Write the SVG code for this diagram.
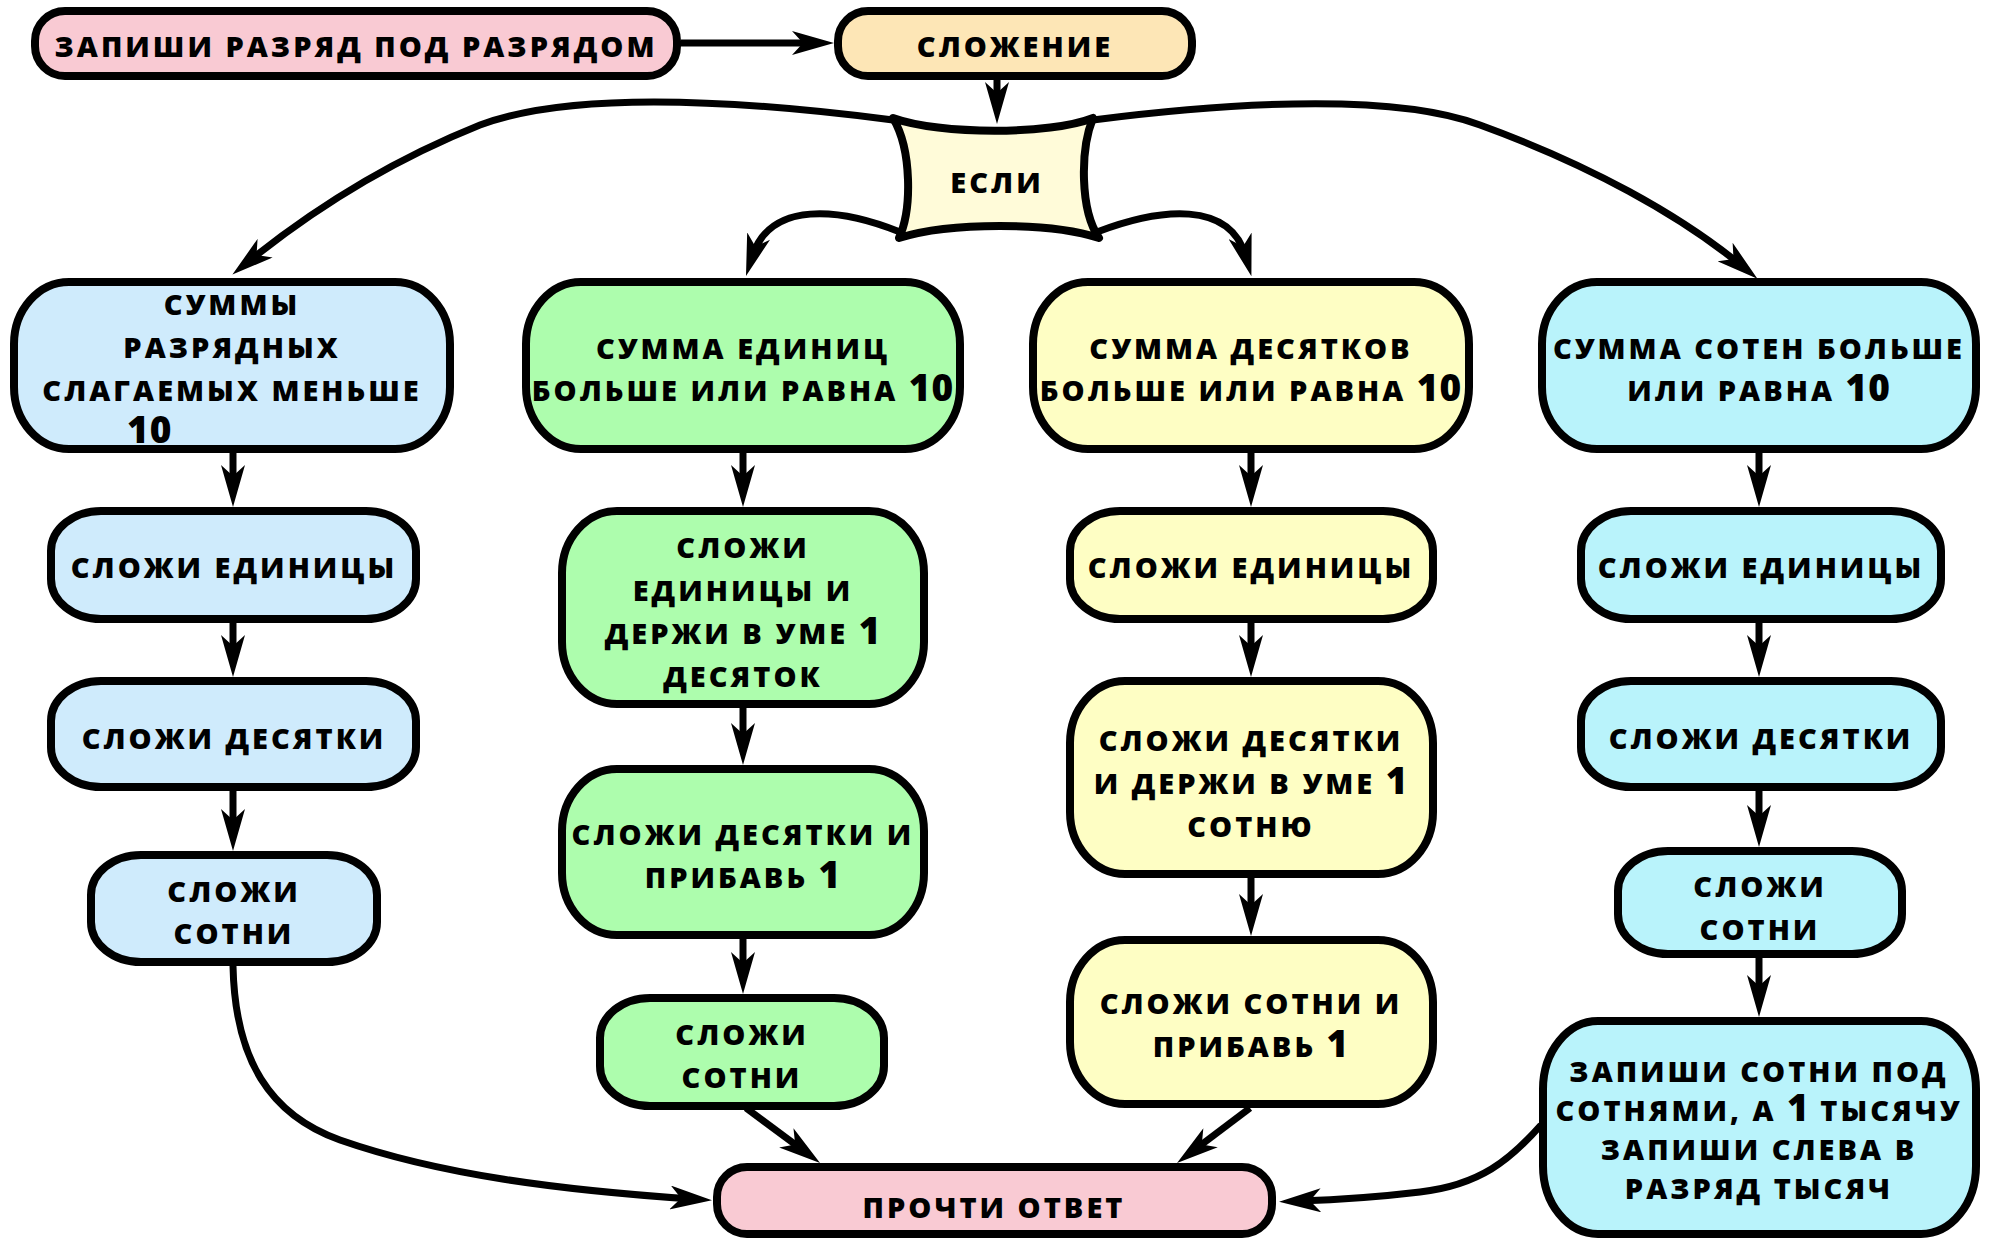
<svg xmlns="http://www.w3.org/2000/svg" width="1995" height="1240" viewBox="0 0 1995 1240">
<defs>
<style>
.n{stroke:#000;stroke-width:8}
.pink{fill:#f9cad3}.orange{fill:#fde6b6}.if{fill:#fffbd9}
.blue{fill:#cfebfc}.green{fill:#adfdad}.yellow{fill:#fefec4}.cyan{fill:#b9f3fb}
.t{font-family:"Open Sans","Noto Sans","DejaVu Sans",sans-serif;font-weight:800;font-size:29px;letter-spacing:3px;text-anchor:middle;fill:#000}
.d{font-size:37px;letter-spacing:1px}
.c{fill:none;stroke:#000;stroke-width:7;marker-end:url(#ah)}
</style>
<marker id="ah" markerUnits="userSpaceOnUse" viewBox="0 0 42 24" refX="22" refY="12" markerWidth="42" markerHeight="24" orient="auto">
<path d="M42,12 L0,0 L11,12 L0,24 Z" fill="#000"/>
</marker>
</defs>
<rect width="1995" height="1240" fill="#fff"/>
<g id="connectors">
<path class="c" d="M681,43 H814"/>
<path class="c" d="M997,80 V104"/>
<path class="c" d="M893,120 C700,95 560,95 480,125 C380,165 300,220 248,262"/>
<path class="c" d="M1093,120 C1250,100 1400,95 1480,125 C1590,165 1680,215 1742,266"/>
<path class="c" d="M900,232 C840,208 770,200 752,257"/>
<path class="c" d="M1097,232 C1160,208 1230,200 1246,257"/>
<path class="c" d="M233,453 V487"/>
<path class="c" d="M233,623 V657"/>
<path class="c" d="M233,791 V831"/>
<path class="c" d="M743,453 V487"/>
<path class="c" d="M743,708 V745"/>
<path class="c" d="M743,939 V974"/>
<path class="c" d="M1251,453 V487"/>
<path class="c" d="M1251,623 V657"/>
<path class="c" d="M1251,878 V916"/>
<path class="c" d="M1759,453 V487"/>
<path class="c" d="M1759,623 V657"/>
<path class="c" d="M1759,791 V827"/>
<path class="c" d="M1759,958 V997"/>
<path class="c" d="M233,966 C235,1060 270,1115 340,1140 C440,1175 560,1190 692,1199"/>
<path class="c" d="M746,1108 L804,1151"/>
<path class="c" d="M1250,1108 L1193,1151"/>
<path class="c" d="M1541,1125 C1510,1160 1480,1185 1420,1192 C1370,1198 1330,1200 1299,1201"/>
</g>
<g id="n_write"><rect class="n pink" x="35" y="11" width="642" height="65" rx="30" ry="30"/><text class="t" x="356" y="57">ЗАПИШИ РАЗРЯД ПОД РАЗРЯДОМ</text></g>
<g id="n_add"><rect class="n orange" x="838" y="11" width="354" height="65" rx="30" ry="30"/><text class="t" x="1015" y="57">СЛОЖЕНИЕ</text></g>
<g id="n_if"><path class="n if" stroke-width="7" stroke-linejoin="round" d="M893,118 C940,135 1050,135 1093,118 C1080,150 1080,210 1099,238 C1050,222 950,222 899,238 C912,210 912,150 893,118 Z"/><text class="t" x="997" y="193">ЕСЛИ</text></g>
<g id="c1_top"><rect class="n blue" x="14" y="282" width="436" height="167" rx="55" ry="62"/><text class="t"><tspan x="232" y="315">СУММЫ</tspan><tspan x="232" y="358">РАЗРЯДНЫХ</tspan><tspan x="232" y="401">СЛАГАЕМЫХ МЕНЬШЕ</tspan><tspan class="d" x="127" y="443" text-anchor="start">10</tspan></text></g>
<g id="c2_top"><rect class="n green" x="526" y="282" width="434" height="167" rx="55" ry="62"/><text class="t"><tspan x="743" y="359">СУММА ЕДИНИЦ</tspan><tspan x="743" y="401">БОЛЬШЕ ИЛИ РАВНА <tspan class="d">10</tspan></tspan></text></g>
<g id="c3_top"><rect class="n yellow" x="1033" y="282" width="436" height="167" rx="55" ry="62"/><text class="t"><tspan x="1251" y="359">СУММА ДЕСЯТКОВ</tspan><tspan x="1251" y="401">БОЛЬШЕ ИЛИ РАВНА <tspan class="d">10</tspan></tspan></text></g>
<g id="c4_top"><rect class="n cyan" x="1542" y="282" width="434" height="167" rx="55" ry="62"/><text class="t"><tspan x="1759" y="359">СУММА СОТЕН БОЛЬШЕ</tspan><tspan x="1759" y="401">ИЛИ РАВНА <tspan class="d">10</tspan></tspan></text></g>
<g id="c1_units"><rect class="n blue" x="51" y="511" width="365" height="108" rx="50" ry="40"/><text class="t" x="234" y="578">СЛОЖИ ЕДИНИЦЫ</text></g>
<g id="c1_tens"><rect class="n blue" x="51" y="681" width="365" height="106" rx="50" ry="40"/><text class="t" x="234" y="749">СЛОЖИ ДЕСЯТКИ</text></g>
<g id="c1_hund"><rect class="n blue" x="91" y="855" width="286" height="107" rx="50" ry="40"/><text class="t"><tspan x="234" y="902">СЛОЖИ</tspan><tspan x="234" y="944">СОТНИ</tspan></text></g>
<g id="c2_units"><rect class="n green" x="562" y="511" width="362" height="193" rx="55" ry="62"/><text class="t"><tspan x="743" y="558">СЛОЖИ</tspan><tspan x="743" y="601">ЕДИНИЦЫ И</tspan><tspan x="743" y="644">ДЕРЖИ В УМЕ <tspan class="d">1</tspan></tspan><tspan x="743" y="687">ДЕСЯТОК</tspan></text></g>
<g id="c2_tens"><rect class="n green" x="562" y="769" width="362" height="166" rx="55" ry="62"/><text class="t"><tspan x="743" y="845">СЛОЖИ ДЕСЯТКИ И</tspan><tspan x="743" y="888">ПРИБАВЬ <tspan class="d">1</tspan></tspan></text></g>
<g id="c2_hund"><rect class="n green" x="600" y="998" width="284" height="108" rx="50" ry="40"/><text class="t"><tspan x="742" y="1045">СЛОЖИ</tspan><tspan x="742" y="1088">СОТНИ</tspan></text></g>
<g id="c3_units"><rect class="n yellow" x="1070" y="511" width="363" height="108" rx="50" ry="40"/><text class="t" x="1251" y="578">СЛОЖИ ЕДИНИЦЫ</text></g>
<g id="c3_tens"><rect class="n yellow" x="1070" y="681" width="363" height="193" rx="55" ry="62"/><text class="t"><tspan x="1251" y="751">СЛОЖИ ДЕСЯТКИ</tspan><tspan x="1251" y="794">И ДЕРЖИ В УМЕ <tspan class="d">1</tspan></tspan><tspan x="1251" y="837">СОТНЮ</tspan></text></g>
<g id="c3_hund"><rect class="n yellow" x="1070" y="940" width="363" height="164" rx="55" ry="62"/><text class="t"><tspan x="1251" y="1014">СЛОЖИ СОТНИ И</tspan><tspan x="1251" y="1057">ПРИБАВЬ <tspan class="d">1</tspan></tspan></text></g>
<g id="c4_units"><rect class="n cyan" x="1581" y="511" width="360" height="108" rx="50" ry="40"/><text class="t" x="1761" y="578">СЛОЖИ ЕДИНИЦЫ</text></g>
<g id="c4_tens"><rect class="n cyan" x="1581" y="681" width="360" height="106" rx="50" ry="40"/><text class="t" x="1761" y="749">СЛОЖИ ДЕСЯТКИ</text></g>
<g id="c4_hund"><rect class="n cyan" x="1618" y="851" width="284" height="103" rx="50" ry="40"/><text class="t"><tspan x="1760" y="897">СЛОЖИ</tspan><tspan x="1760" y="940">СОТНИ</tspan></text></g>
<g id="c4_write"><rect class="n cyan" x="1543" y="1021" width="433" height="213" rx="55" ry="68"/><text class="t"><tspan x="1759" y="1082">ЗАПИШИ СОТНИ ПОД</tspan><tspan x="1759" y="1121">СОТНЯМИ, А <tspan class="d">1</tspan> ТЫСЯЧУ</tspan><tspan x="1759" y="1160">ЗАПИШИ СЛЕВА В</tspan><tspan x="1759" y="1199">РАЗРЯД ТЫСЯЧ</tspan></text></g>
<g id="n_read"><rect class="n pink" x="717" y="1167" width="555" height="67" rx="30" ry="30"/><text class="t" x="994" y="1218">ПРОЧТИ ОТВЕТ</text></g>
</svg>
